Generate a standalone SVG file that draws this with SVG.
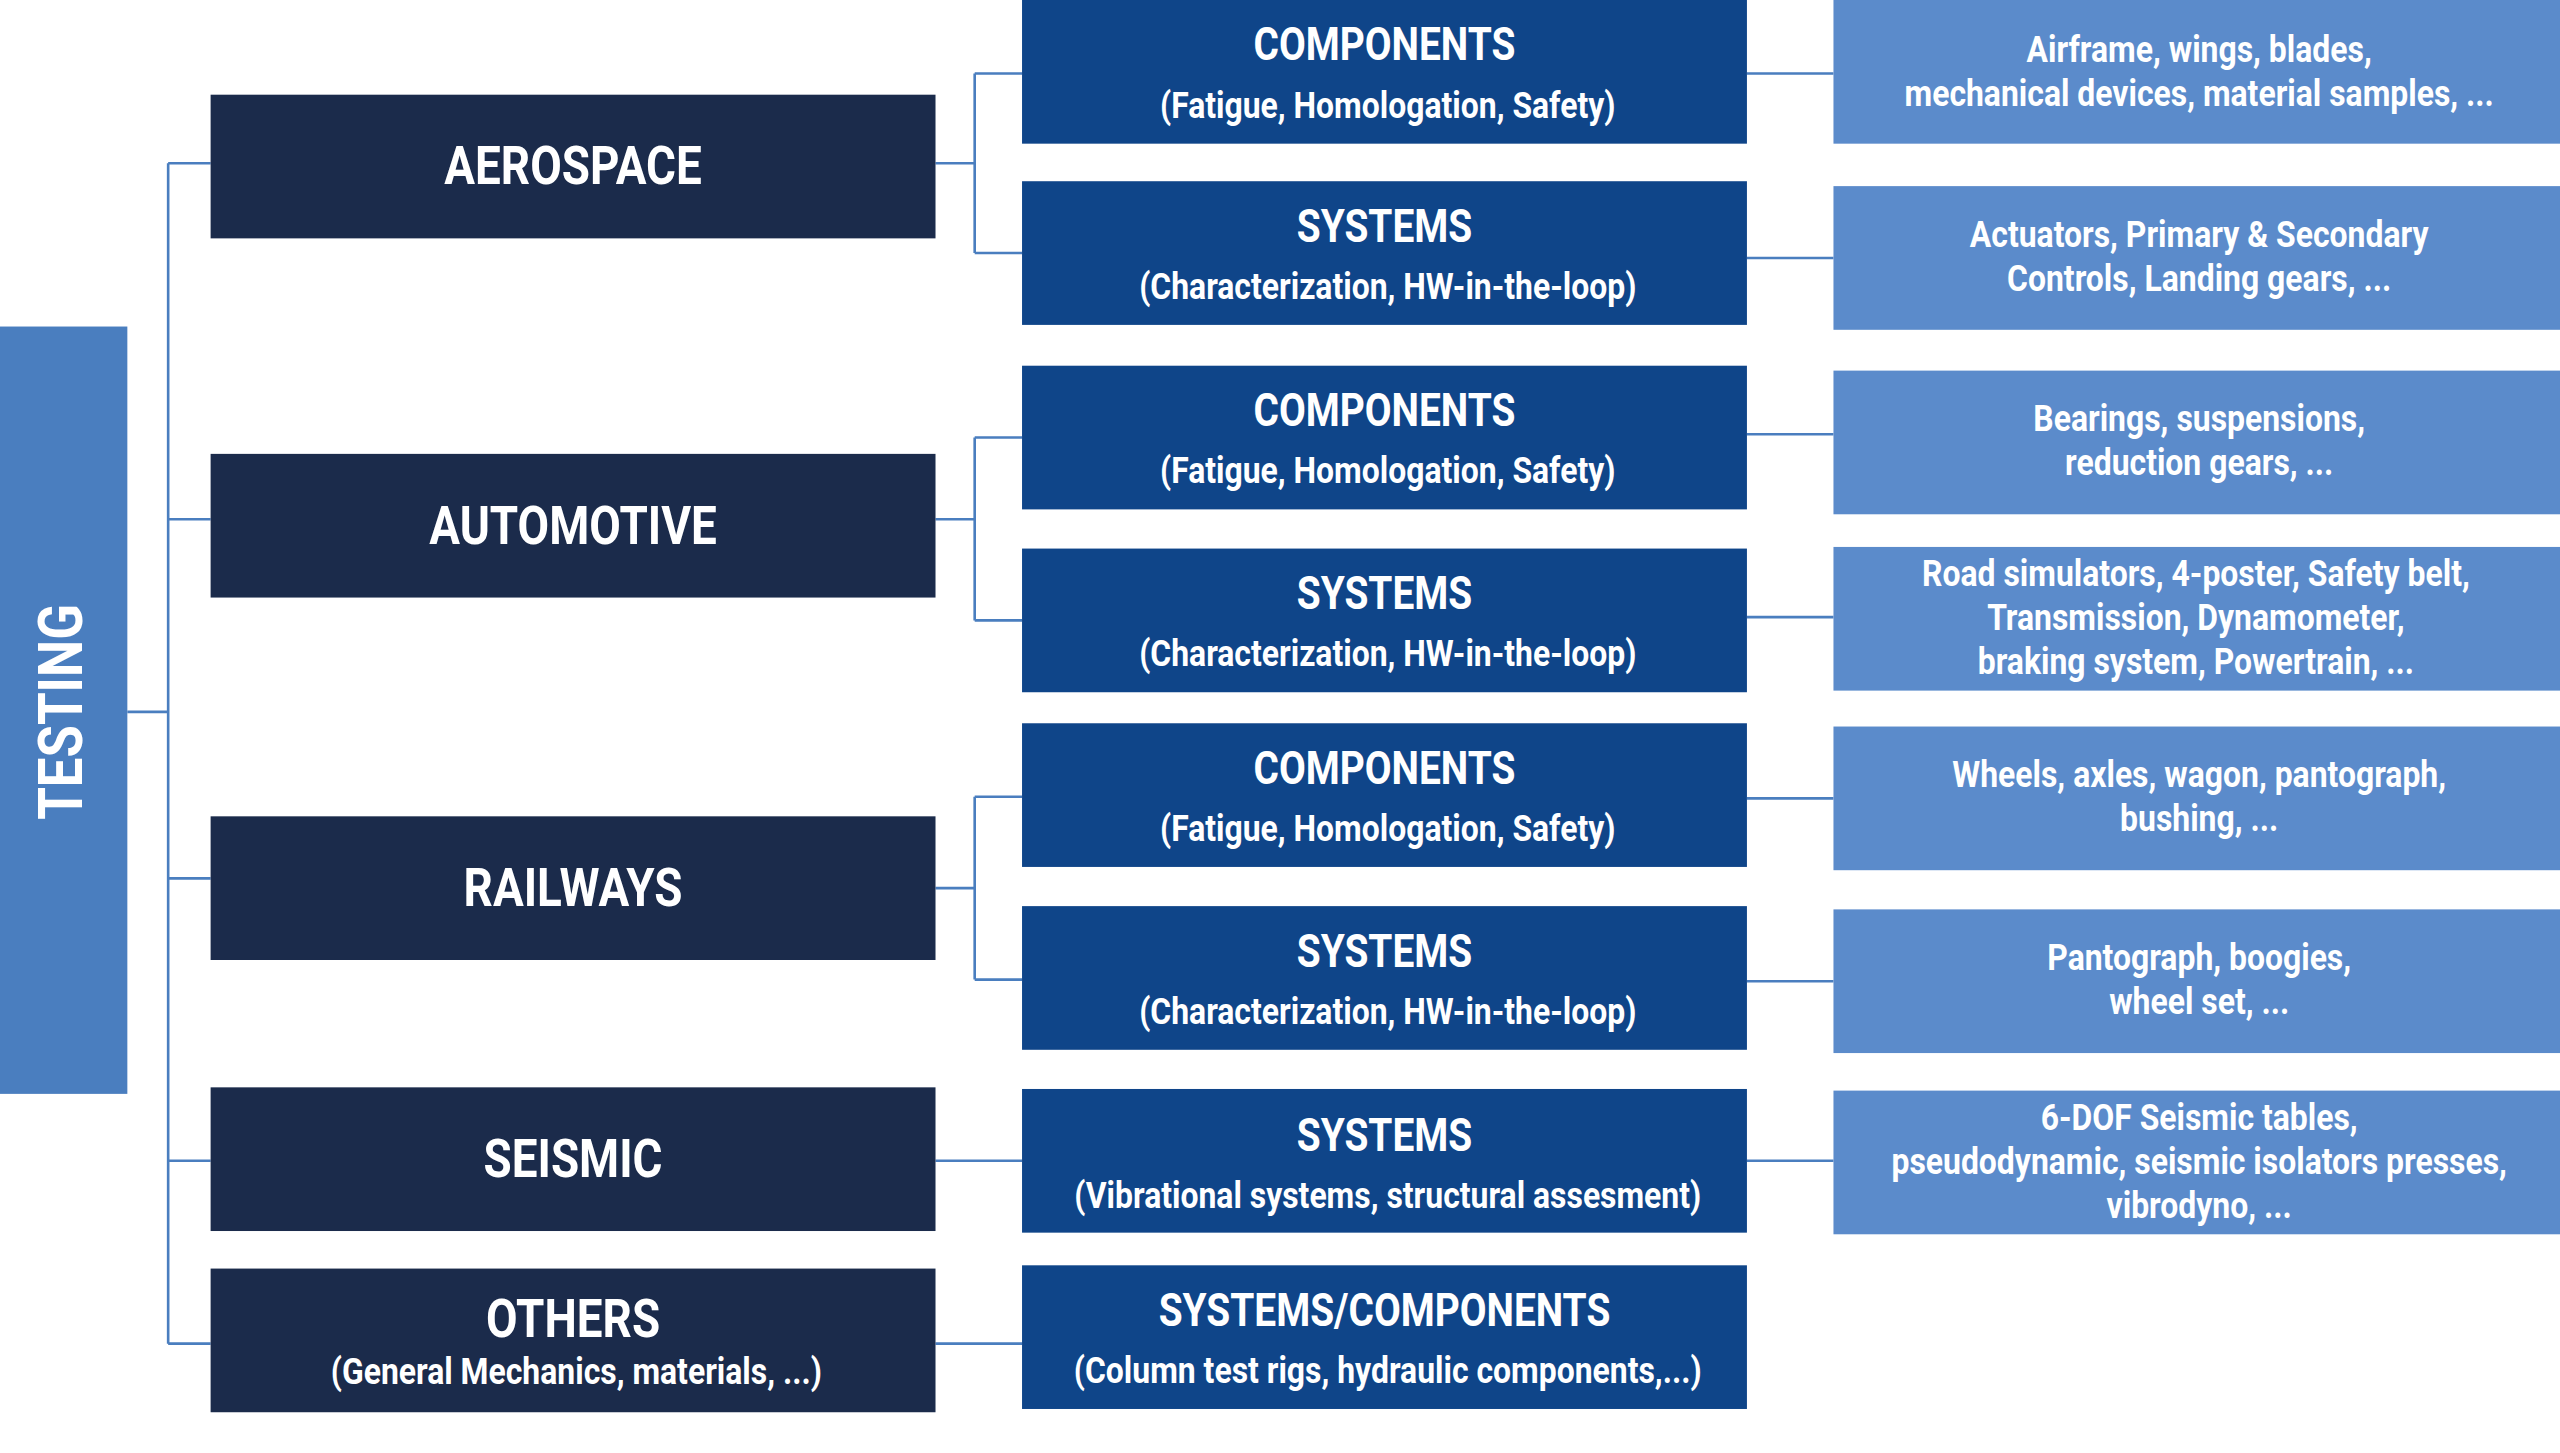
<svg xmlns="http://www.w3.org/2000/svg" width="2560" height="1453" viewBox="0 0 2560 1453">
<style>
.t{fill:#4a7ebf}.l1{fill:#1b2b4b}.l2{fill:#0f4589}.l3{fill:#5b8bcb}
text{font-family:Roboto,"Liberation Sans",sans-serif;font-weight:bold;fill:#fff;text-anchor:middle}
.a{font-size:33px}.b{font-size:28px}.c{font-size:23px}.d{font-size:23px}
.cn{fill:none;stroke:#4a7ebf;stroke-width:1.6}
</style>
<rect width="2560" height="1453" fill="#fff"/>
<g transform="scale(1.63265)">
<g id="connectors" class="cn">
<path d="M78 436H103M103 100V823M103 100H129M103 318H129M103 538H129M103 711H129M103 823H129"/>
<path d="M573 100H597M597 45V155M597 45H626M597 155H626"/>
<path d="M573 318H597M597 268V380M597 268H626M597 380H626"/>
<path d="M573 544H597M597 488V600M597 488H626M597 600H626"/>
<path d="M573 711H626M573 823H626"/>
<path d="M1070 45H1123M1070 158H1123M1070 266H1123M1070 378H1123M1070 489H1123M1070 601H1123M1070 711H1123"/>
</g>
<g id="testing"><rect class="t" x="0" y="200" width="78" height="470"/><text transform="translate(50,436) rotate(-90) scale(0.85,1)" style="font-size:38px">TESTING</text></g>
<g id="aerospace"><rect class="l1" x="129" y="58" width="444" height="88"/><text class="a" transform="translate(351,113) scale(0.85,1)">AEROSPACE</text></g>
<g id="automotive"><rect class="l1" x="129" y="278" width="444" height="88"/><text class="a" transform="translate(351,333) scale(0.85,1)">AUTOMOTIVE</text></g>
<g id="railways"><rect class="l1" x="129" y="500" width="444" height="88"/><text class="a" transform="translate(351,555) scale(0.85,1)">RAILWAYS</text></g>
<g id="seismic"><rect class="l1" x="129" y="666" width="444" height="88"/><text class="a" transform="translate(351,721) scale(0.85,1)">SEISMIC</text></g>
<g id="others"><rect class="l1" x="129" y="777" width="444" height="88"/><text class="a" transform="translate(351,819) scale(0.85,1)">OTHERS</text><text class="c" transform="translate(353,848) scale(0.85,1)">(General Mechanics, materials, ...)</text></g>
<g id="aero-comp"><rect class="l2" x="626" y="0" width="444" height="88"/><text class="b" transform="translate(848,37) scale(0.85,1)">COMPONENTS</text><text class="c" transform="translate(850,72) scale(0.85,1)">(Fatigue, Homologation, Safety)</text></g>
<g id="aero-sys"><rect class="l2" x="626" y="111" width="444" height="88"/><text class="b" transform="translate(848,148) scale(0.85,1)">SYSTEMS</text><text class="c" transform="translate(850,183) scale(0.85,1)">(Characterization, HW-in-the-loop)</text></g>
<g id="auto-comp"><rect class="l2" x="626" y="224" width="444" height="88"/><text class="b" transform="translate(848,261) scale(0.85,1)">COMPONENTS</text><text class="c" transform="translate(850,296) scale(0.85,1)">(Fatigue, Homologation, Safety)</text></g>
<g id="auto-sys"><rect class="l2" x="626" y="336" width="444" height="88"/><text class="b" transform="translate(848,373) scale(0.85,1)">SYSTEMS</text><text class="c" transform="translate(850,408) scale(0.85,1)">(Characterization, HW-in-the-loop)</text></g>
<g id="rail-comp"><rect class="l2" x="626" y="443" width="444" height="88"/><text class="b" transform="translate(848,480) scale(0.85,1)">COMPONENTS</text><text class="c" transform="translate(850,515) scale(0.85,1)">(Fatigue, Homologation, Safety)</text></g>
<g id="rail-sys"><rect class="l2" x="626" y="555" width="444" height="88"/><text class="b" transform="translate(848,592) scale(0.85,1)">SYSTEMS</text><text class="c" transform="translate(850,627) scale(0.85,1)">(Characterization, HW-in-the-loop)</text></g>
<g id="seis-sys"><rect class="l2" x="626" y="667" width="444" height="88"/><text class="b" transform="translate(848,705) scale(0.85,1)">SYSTEMS</text><text class="c" transform="translate(850,740) scale(0.85,1)">(Vibrational systems, structural assesment)</text></g>
<g id="other-sys"><rect class="l2" x="626" y="775" width="444" height="88"/><text class="b" transform="translate(848,812) scale(0.85,1)">SYSTEMS/COMPONENTS</text><text class="c" transform="translate(850,847) scale(0.85,1)">(Column test rigs, hydraulic components,...)</text></g>
<g id="d1"><rect class="l3" x="1123" y="0" width="445" height="88"/><text class="d" transform="translate(1347,38) scale(0.85,1)">Airframe, wings, blades,</text><text class="d" transform="translate(1347,65) scale(0.85,1)">mechanical devices, material samples, ...</text></g>
<g id="d2"><rect class="l3" x="1123" y="114" width="445" height="88"/><text class="d" transform="translate(1347,151) scale(0.85,1)">Actuators, Primary &amp; Secondary</text><text class="d" transform="translate(1347,178) scale(0.85,1)">Controls, Landing gears, ...</text></g>
<g id="d3"><rect class="l3" x="1123" y="227" width="445" height="88"/><text class="d" transform="translate(1347,264) scale(0.85,1)">Bearings, suspensions,</text><text class="d" transform="translate(1347,291) scale(0.85,1)">reduction gears, ...</text></g>
<g id="d4"><rect class="l3" x="1123" y="335" width="445" height="88"/><text class="d" transform="translate(1345,359) scale(0.85,1)">Road simulators, 4-poster, Safety belt,</text><text class="d" transform="translate(1345,386) scale(0.85,1)">Transmission, Dynamometer,</text><text class="d" transform="translate(1345,413) scale(0.85,1)">braking system, Powertrain, ...</text></g>
<g id="d5"><rect class="l3" x="1123" y="445" width="445" height="88"/><text class="d" transform="translate(1347,482) scale(0.85,1)">Wheels, axles, wagon, pantograph,</text><text class="d" transform="translate(1347,509) scale(0.85,1)">bushing, ...</text></g>
<g id="d6"><rect class="l3" x="1123" y="557" width="445" height="88"/><text class="d" transform="translate(1347,594) scale(0.85,1)">Pantograph, boogies,</text><text class="d" transform="translate(1347,621) scale(0.85,1)">wheel set, ...</text></g>
<g id="d7"><rect class="l3" x="1123" y="668" width="445" height="88"/><text class="d" transform="translate(1347,692) scale(0.85,1)">6-DOF Seismic tables,</text><text class="d" transform="translate(1347,719) scale(0.85,1)">pseudodynamic, seismic isolators presses,</text><text class="d" transform="translate(1347,746) scale(0.85,1)">vibrodyno, ...</text></g>
</g>
</svg>
